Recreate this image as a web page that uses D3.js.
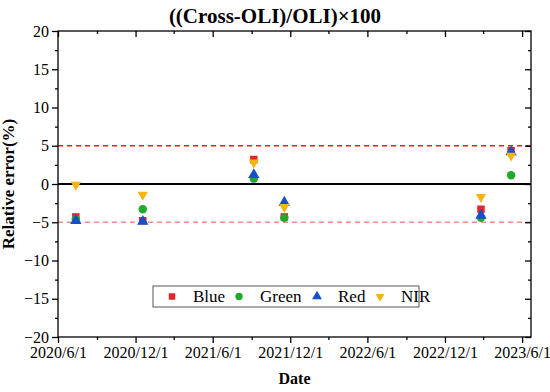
<!DOCTYPE html>
<html>
<head>
<meta charset="utf-8">
<script src="https://cdn.jsdelivr.net/npm/d3@7"></script>
<style>
  body { margin: 0; background: #fff; }
  svg text { font-family: "Liberation Serif", "Times New Roman", Tinos, "DejaVu Serif", serif !important; }
</style>
</head>
<body>
<div id="chart"></div>
<script>
// observation dates and relative errors (%) per band
var dates = ["2020-07-13", "2020-12-18", "2021-09-06", "2021-11-17", "2023-02-24", "2023-05-06"];
var blue  = [-4.3, -4.8, 3.2, -4.3, -3.3, 4.35];
var green = [-4.6, -3.3, 0.7, -4.4, -4.4, 1.15];
var red   = [-4.8, -4.9, 1.2, -2.4, -4.1, 4.2];
var nir   = [-0.1, -1.4, 2.8, -3.0, -1.7, 3.7];
var xTicks = ["2020/6/1", "2020/12/1", "2021/6/1", "2021/12/1", "2022/6/1", "2022/12/1", "2023/6/1"];
var yTicks = [-20, -15, -10, -5, 0, 5, 10, 15, 20];

var FONT = "'Liberation Serif', 'Times New Roman', Tinos, 'DejaVu Serif', serif";

var W = 550, H = 392;
var margin = {top: 31, right: 19, bottom: 55, left: 58},
    width = W - margin.left - margin.right,
    height = H - margin.top - margin.bottom;

var parse = d3.timeParse("%Y-%m-%d");
var parseTick = d3.timeParse("%Y/%m/%d");

var svg = d3.select("#chart")
  .append("svg")
    .attr("width", W)
    .attr("height", H)
    .attr("font-family", FONT)
  .append("g")
    .attr("transform", "translate(" + margin.left + "," + margin.top + ")");

var x = d3.scaleTime()
  .domain([parse("2020-06-01"), parse("2023-06-22")])
  .range([0, width]);
var y = d3.scaleLinear()
  .domain([-20, 20])
  .range([height, 0]);

var majorX = xTicks.map(function (t) { return parseTick(t); });
var minorX = majorX.map(function (d) { return d3.timeMonth.offset(d, 3); })
  .filter(function (d) { return d <= x.domain()[1]; });
var minorY = d3.range(-17.5, 20, 5);

// reference lines
svg.append("line")
  .attr("x1", 0).attr("x2", width)
  .attr("y1", y(5)).attr("y2", y(5))
  .attr("stroke", "#ee1c1c").attr("stroke-width", 1.3)
  .attr("stroke-dasharray", "5,4");
svg.append("line")
  .attr("x1", 0).attr("x2", width)
  .attr("y1", y(-5)).attr("y2", y(-5))
  .attr("stroke", "#f48a8a").attr("stroke-width", 1.3)
  .attr("stroke-dasharray", "5,4");
svg.append("line")
  .attr("x1", 0).attr("x2", width)
  .attr("y1", y(0)).attr("y2", y(0))
  .attr("stroke", "#000").attr("stroke-width", 2);

// axes
function styleAxis(g) {
  g.attr("font-family", FONT);
  g.select(".domain").remove();
  g.selectAll(".tick line").attr("stroke", "#000").attr("stroke-width", 1.3);
  g.selectAll("text").attr("fill", "#000").style("font-size", "16px").style("font-family", FONT);
}

svg.append("g")
  .attr("transform", "translate(0," + height + ")")
  .call(d3.axisBottom(x).tickValues(majorX).tickSize(6).tickPadding(4)
    .tickFormat(function (d, i) { return xTicks[i]; }))
  .call(styleAxis);
svg.append("g")
  .attr("transform", "translate(0," + height + ")")
  .call(d3.axisBottom(x).tickValues(minorX).tickSize(3).tickFormat(""))
  .call(styleAxis);
svg.append("g")
  .call(d3.axisTop(x).tickValues(majorX).tickSizeInner(-6).tickFormat(""))
  .call(styleAxis);
svg.append("g")
  .call(d3.axisTop(x).tickValues(minorX).tickSizeInner(-3).tickFormat(""))
  .call(styleAxis);

svg.append("g")
  .call(d3.axisLeft(y).tickValues(yTicks).tickSize(6).tickPadding(3))
  .call(styleAxis);
svg.append("g")
  .call(d3.axisLeft(y).tickValues(minorY).tickSize(3).tickFormat(""))
  .call(styleAxis);
svg.append("g")
  .attr("transform", "translate(" + width + ",0)")
  .call(d3.axisRight(y).tickValues(yTicks).tickSizeInner(-6).tickFormat(""))
  .call(styleAxis);
svg.append("g")
  .attr("transform", "translate(" + width + ",0)")
  .call(d3.axisRight(y).tickValues(minorY).tickSizeInner(-3).tickFormat(""))
  .call(styleAxis);

// frame
svg.append("rect")
  .attr("width", width).attr("height", height)
  .attr("fill", "none").attr("stroke", "#000").attr("stroke-width", 1.3);

// series
var series = [
  {name: "Blue",  values: blue,  color: "#e8222a", shape: d3.symbolSquare,   size: 56, rot: 0},
  {name: "Green", values: green, color: "#1faa2a", shape: d3.symbolCircle,   size: 56, rot: 0},
  {name: "Red",   values: red,   color: "#1450c8", shape: d3.symbolTriangle, size: 56, rot: 0},
  {name: "NIR",   values: nir,   color: "#f6b40f", shape: d3.symbolTriangle, size: 46, rot: 180}
];

series.forEach(function (s) {
  svg.append("g")
    .selectAll("path")
    .data(s.values)
    .enter()
    .append("path")
      .attr("d", d3.symbol().type(s.shape).size(s.size))
      .attr("transform", function (d, i) {
        return "translate(" + x(parse(dates[i])) + "," + y(d) + ") rotate(" + s.rot + ")";
      })
      .attr("fill", s.color);
});

// legend
var legend = svg.append("g")
  .attr("transform", "translate(" + (153 - margin.left) + "," + (286 - margin.top) + ")");
legend.append("rect")
  .attr("width", 266).attr("height", 21)
  .attr("fill", "#fff").attr("stroke", "#555").attr("stroke-width", 1);
var legendX = [19, 86, 164, 227];
series.forEach(function (s, i) {
  legend.append("path")
    .attr("d", d3.symbol().type(s.shape).size(s.size * 0.75))
    .attr("transform", "translate(" + legendX[i] + ",10.5) rotate(" + s.rot + ")")
    .attr("fill", s.color);
  legend.append("text")
    .attr("x", legendX[i] + 21).attr("y", 16)
    .style("font-size", "17px").style("font-family", FONT)
    .text(s.name);
});

// titles
svg.append("text")
  .attr("x", W / 2 - margin.left).attr("y", -8)
  .attr("text-anchor", "middle")
  .style("font-size", "21px").style("font-weight", "bold").style("font-family", FONT)
  .text("((Cross-OLI)/OLI)\u00d7100");
svg.append("text")
  .attr("x", width / 2).attr("y", height + 47)
  .attr("text-anchor", "middle")
  .style("font-size", "16px").style("font-weight", "bold").style("font-family", FONT)
  .text("Date");
svg.append("text")
  .attr("transform", "translate(" + (-44) + "," + (height / 2) + ") rotate(-90)")
  .attr("text-anchor", "middle")
  .style("font-size", "17px").style("font-weight", "bold").style("font-family", FONT)
  .text("Relative error(%)");
</script>
</body>
</html>
